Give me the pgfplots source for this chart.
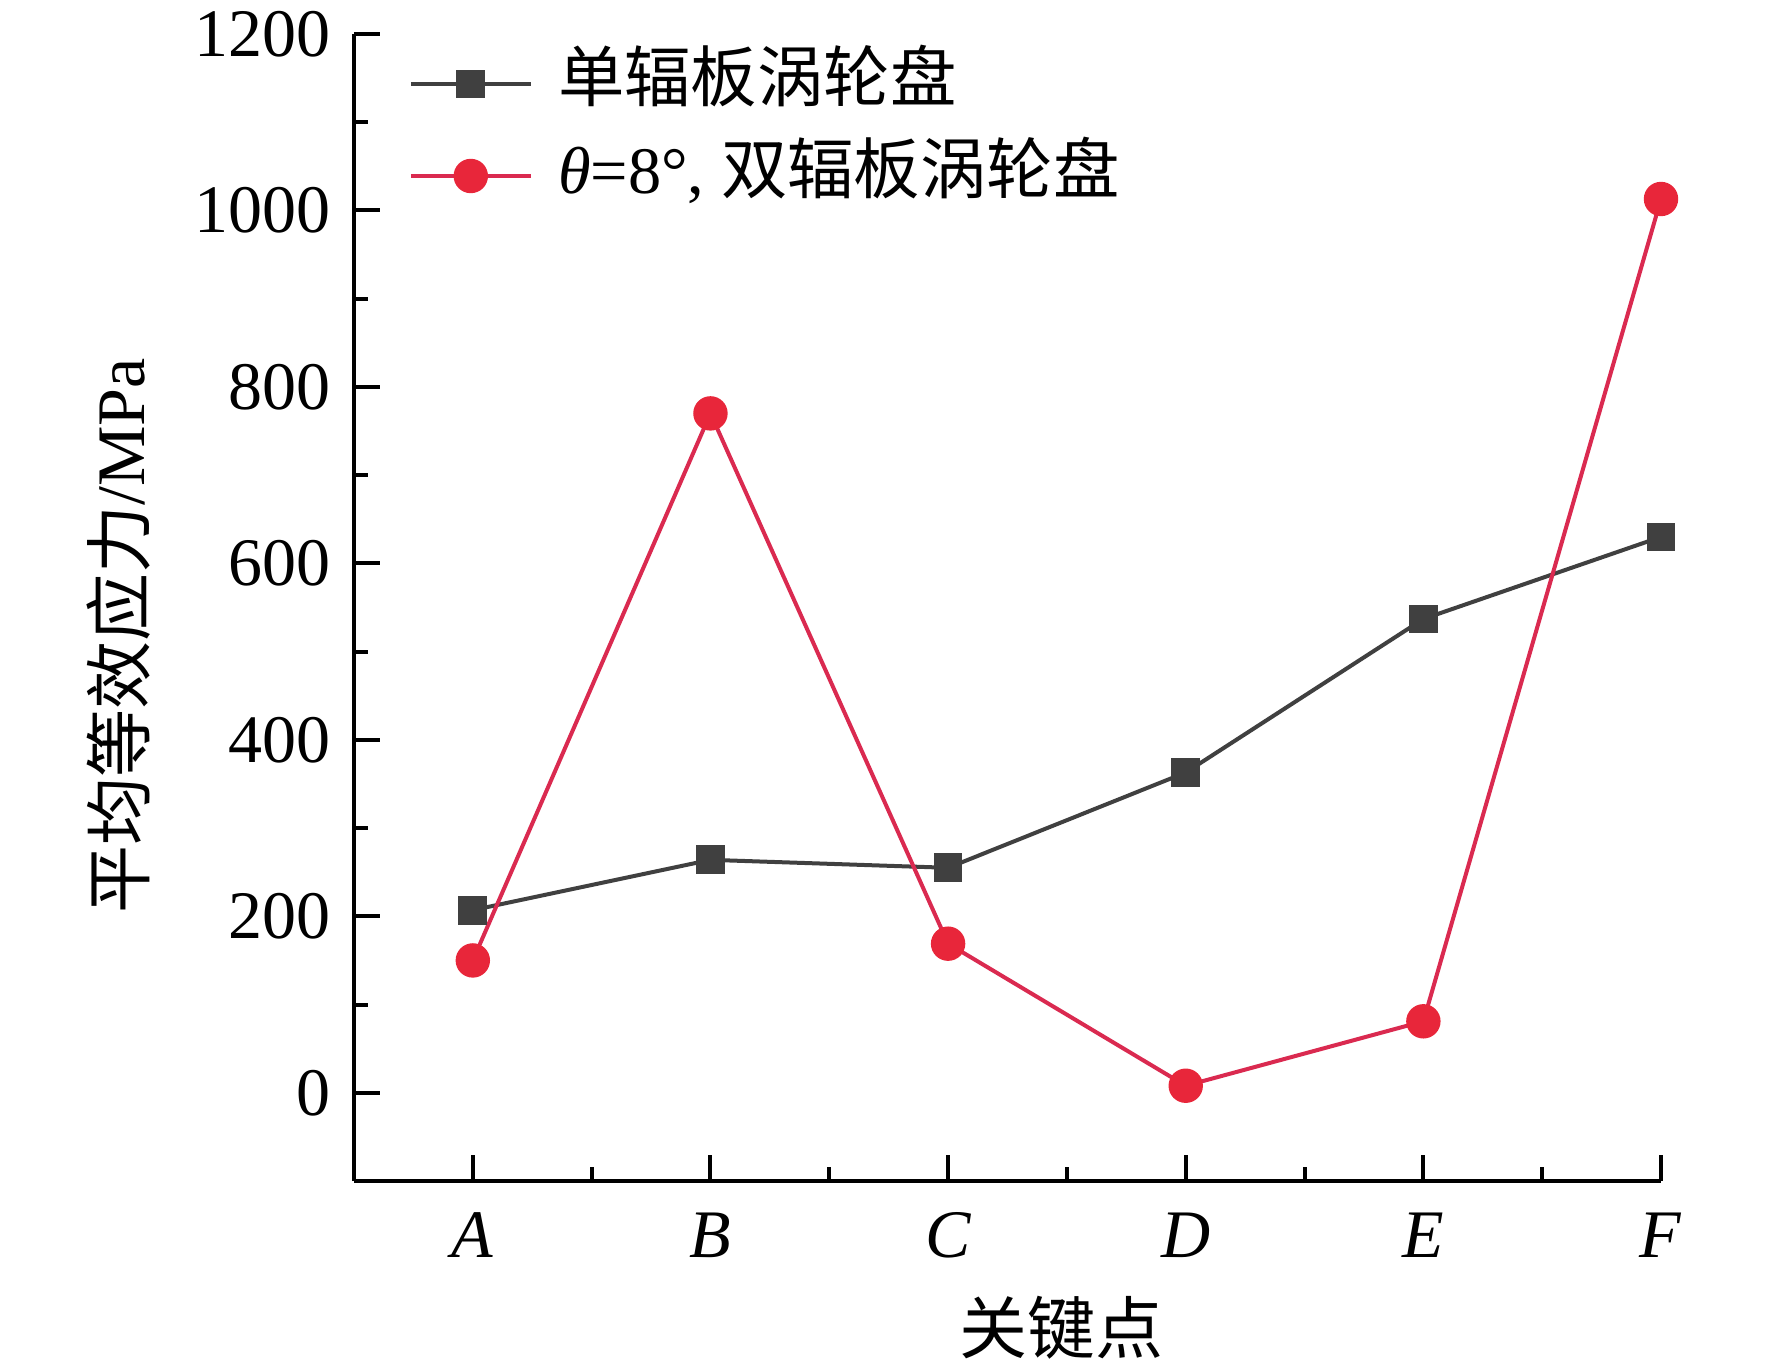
\documentclass[border=0pt]{standalone}
\usepackage{pgfplots}
\pgfplotsset{compat=1.18}
\usepackage{fontspec}
\setmainfont{Liberation Serif}
\newfontfamily\cjk{Noto Sans CJK SC}
\definecolor{sgray}{RGB}{64,64,64}
\definecolor{rline}{RGB}{218,42,80}
\definecolor{rmark}{RGB}{232,38,58}
\begin{document}
\fontsize{17}{20}\selectfont
\begin{tikzpicture}
\begin{axis}[
  at={(0,0)}, anchor=south west,
  scale only axis, width=326.75pt, height=286.75pt,
  xmin=-0.5, xmax=5, ymin=-100, ymax=1200,
  axis x line*=bottom, axis y line*=left,
  axis line style={line width=1pt},
  every tick/.style={black, line width=1pt},
  tick align=inside,
  major tick length=6.5pt, minor tick length=3.5pt,
  xtick={0,1,2,3,4,5},
  xticklabels={\textit{A},\textit{B},\textit{C},\textit{D},\textit{E},\textit{F}},
  minor xtick={0.5,1.5,2.5,3.5,4.5},
  ytick={0,200,400,600,800,1000,1200},
  minor ytick={-100,100,300,500,700,900,1100},
  /pgf/number format/assume math mode=true,
  yticklabel={\pgfmathprintnumber[fixed,1000 sep={}]{\tick}},
  tick label style={font=\fontsize{17}{20}\selectfont},
  xticklabel style={yshift=-2pt},
  xlabel={\cjk 关键点},
  xlabel style={at={(axis description cs:0.5,0)}, anchor=center, yshift=-36.75pt, xshift=13.6pt, font=\fontsize{17}{20}\selectfont},
  ylabel={{\cjk 平均等效应力}/MPa},
  ylabel style={at={(axis description cs:-0.18,0.475)}, anchor=center, font=\fontsize{17}{20}\selectfont},
  legend style={at={(axis description cs:0,1)}, anchor=north west, xshift=13.5pt, yshift=-4.8pt,
    draw=none, fill=none, inner sep=0pt, row sep=8pt, column sep=0pt,
    nodes={text height=12pt, text depth=3pt, inner sep=0pt, anchor=west},
    font=\fontsize{16.6}{20}\selectfont},
  legend cell align=left,
  legend image code/.code={\draw[mark repeat=2,mark phase=2] plot coordinates {(0pt,0pt)(15pt,0pt)(30pt,0pt)};\path (36.3pt,0pt);},
]
\addplot[sgray, line width=1pt, mark=square*, mark size=3.1pt, mark options={fill=sgray, draw=sgray, solid}]
  coordinates {(0,207) (1,264) (2,255) (3,363) (4,537) (5,630)};
\addlegendentry{\cjk 单辐板涡轮盘}
\addplot[rline, line width=1pt, mark=*, mark size=3.8pt, mark options={fill=rmark, draw=rmark, solid}]
  coordinates {(0,150) (1,770) (2,169) (3,8) (4,81) (5,1013)};
\addlegendentry{\textit{θ}=8°, {\cjk 双辐板涡轮盘}}
\end{axis}
\pgfresetboundingbox
\path[use as bounding box] (-88.5pt,-47.5pt) rectangle (354.5pt,295.25pt);
\end{tikzpicture}
\end{document}
